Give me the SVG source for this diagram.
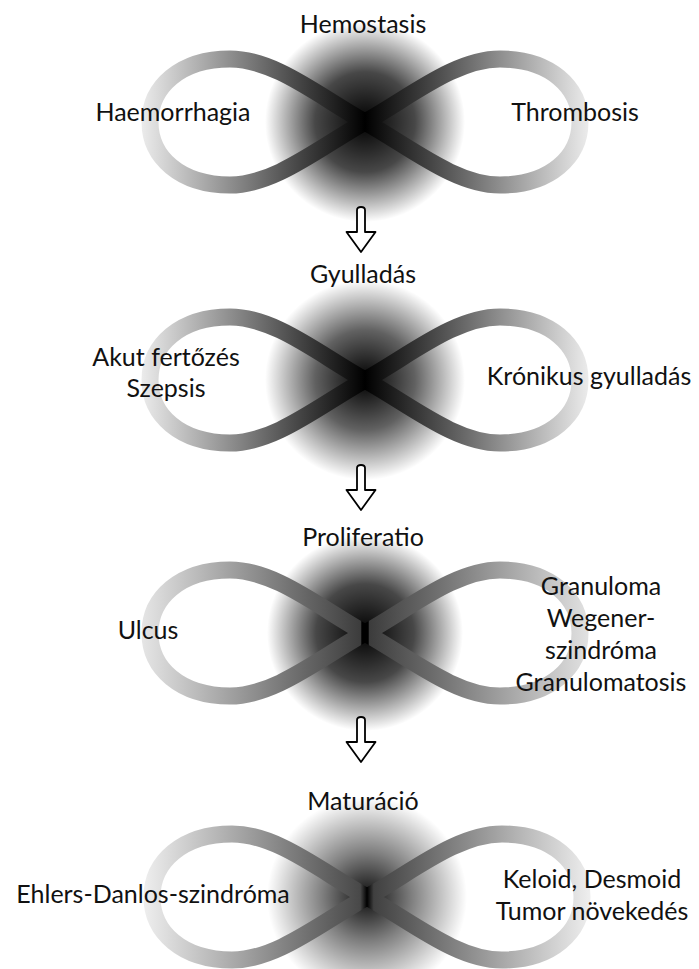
<svg xmlns="http://www.w3.org/2000/svg" width="699" height="969" viewBox="0 0 699 969">
<defs>
<style>
text{font-family:Lato,"Liberation Sans",sans-serif;font-size:25px;fill:#111;text-anchor:middle}
.loop{fill:none;stroke-width:17;stroke-linejoin:round}
.arrow{fill:#fff;stroke:#000;stroke-width:1.8;stroke-linejoin:round}
</style>
<linearGradient id="sA" gradientUnits="userSpaceOnUse" x1="-224" y1="0" x2="224" y2="0">
<stop offset="0" stop-color="#ececec"/><stop offset="0.5" stop-color="#000"/><stop offset="1" stop-color="#ececec"/>
</linearGradient>
<linearGradient id="sB" gradientUnits="userSpaceOnUse" x1="-224" y1="0" x2="224" y2="0">
<stop offset="0" stop-color="#e6e6e6"/><stop offset="0.49" stop-color="#3c3c3c"/><stop offset="0.493" stop-color="#000"/><stop offset="0.507" stop-color="#000"/><stop offset="0.51" stop-color="#3c3c3c"/><stop offset="1" stop-color="#e2e2e2"/>
</linearGradient>
<linearGradient id="sC" gradientUnits="userSpaceOnUse" x1="-224" y1="0" x2="224" y2="0">
<stop offset="0" stop-color="#efefef"/><stop offset="0.485" stop-color="#484848"/><stop offset="0.5" stop-color="#000"/><stop offset="0.515" stop-color="#404040"/><stop offset="1" stop-color="#efefef"/>
</linearGradient>
<radialGradient id="bA">
<stop offset="0" stop-color="#000" stop-opacity="1"/><stop offset="0.5" stop-color="#000" stop-opacity="0.72"/><stop offset="1" stop-color="#000" stop-opacity="0"/>
</radialGradient>
<radialGradient id="bB">
<stop offset="0" stop-color="#000" stop-opacity="1"/><stop offset="0.5" stop-color="#000" stop-opacity="0.62"/><stop offset="1" stop-color="#000" stop-opacity="0"/>
</radialGradient>
<radialGradient id="bC">
<stop offset="0" stop-color="#000" stop-opacity="0.95"/><stop offset="0.45" stop-color="#000" stop-opacity="0.5"/><stop offset="1" stop-color="#000" stop-opacity="0"/>
</radialGradient>
<path id="eight" d="M0,0 C-45,-25 -90,-63 -135,-63 C-185,-63 -215,-35 -215,0 C-215,35 -185,63 -135,63 C-90,63 -45,25 0,0 C45,-25 90,-63 135,-63 C185,-63 215,-35 215,0 C215,35 185,63 135,63 C90,63 45,25 0,0 Z"/>
<path id="arr" d="M-4,25 L-4,3 Q-4,0 0,0 Q4,0 4,3 L4,25 L14.5,25 L0,45 L-14.5,25 Z"/>
</defs>

<g id="stage1">
<g transform="translate(365,122)">
<circle r="100" fill="url(#bA)"/>
<use href="#eight" class="loop" stroke="url(#sA)"/>
</g>
<text x="363" y="33">Hemostasis</text>
<text x="173" y="121">Haemorrhagia</text>
<text x="575" y="121">Thrombosis</text>
</g>

<g id="stage2">
<g transform="translate(365,380)">
<circle r="100" fill="url(#bB)"/>
<use href="#eight" class="loop" stroke="url(#sA)"/>
</g>
<text x="363" y="283">Gyulladás</text>
<text x="166" y="366">Akut fertőzés</text>
<text x="166" y="397">Szepsis</text>
<text x="589" y="385">Krónikus gyulladás</text>
</g>

<g id="stage3">
<g transform="translate(365,633)">
<circle r="98" fill="url(#bA)"/>
<use href="#eight" class="loop" stroke="url(#sB)"/>
</g>
<text x="363" y="546">Proliferatio</text>
<text x="148" y="639">Ulcus</text>
<text x="601" y="595">Granuloma</text>
<text x="601" y="627">Wegener-</text>
<text x="601" y="659">szindróma</text>
<text x="601" y="691">Granulomatosis</text>
</g>

<g id="stage4">
<g transform="translate(367,897)">
<circle r="100" fill="url(#bC)"/>
<use href="#eight" class="loop" stroke="url(#sC)"/>
</g>
<text x="363" y="810">Maturáció</text>
<text x="153" y="903">Ehlers-Danlos-szindróma</text>
<text x="592" y="888">Keloid, Desmoid</text>
<text x="592" y="920">Tumor növekedés</text>
</g>

<g id="connectors">
<use href="#arr" class="arrow" transform="translate(361,207)"/>
<use href="#arr" class="arrow" transform="translate(361,465)"/>
<use href="#arr" class="arrow" transform="translate(361,717)"/>
</g>
</svg>
